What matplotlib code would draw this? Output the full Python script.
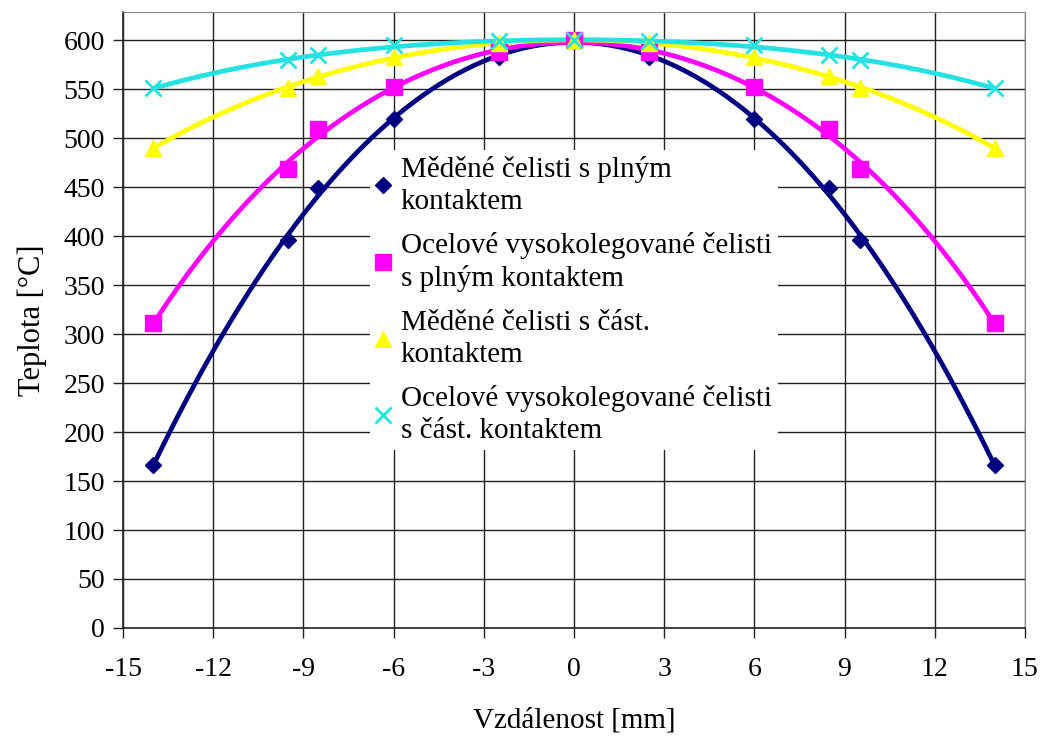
import numpy as np
import matplotlib
matplotlib.use("Agg")
import matplotlib.pyplot as plt

plt.rcParams['font.family'] = ['Liberation Serif', 'DejaVu Serif']
plt.rcParams['axes.unicode_minus'] = False

# --------------------------------------------------
# 	data
# --------------------------------------------------
x = [-14, -9.5, -8.5, -6, -2.5, 0, 2.5, 6, 8.5, 9.5, 14]

cu_full = [166, 396, 449, 520, 583, 600, 583, 520, 449, 396, 166]
steel_full = [311, 469, 510, 552, 588, 600, 588, 552, 510, 469, 311]
cu_part = [490, 551, 564, 583, 597, 600, 597, 583, 564, 551, 490]
steel_part = [551, 580, 585, 595, 599, 600, 599, 595, 585, 580, 551]

labels = [
	"Měděné čelisti s plným\nkontaktem",
	"Ocelové vysokolegované čelisti\ns plným kontaktem",
	"Měděné čelisti s část.\nkontaktem",
	"Ocelové vysokolegované čelisti\ns část. kontaktem",
]
colors = ["#000080", "#FF00FF", "#FFFF00", "#22E2E2"]
markers = ["D", "s", "^", "x"]
msizes = [8, 11, 11, 11]

xticks = list(range(-15, 16, 3))
yticks = list(range(0, 601, 50))

fig = plt.figure(figsize=(10.49, 7.40), dpi=100)
ax = fig.add_axes([0.1173, 0.1514, 0.8597, 0.8324])

# markers = measured points, line = polynomial trendline of them
xf = np.linspace(min(x), max(x), 300)
series = [cu_full, steel_full, cu_part, steel_part]
for ys, lab, col, mk, ms in zip(series, labels, colors, markers, msizes):
	coef = np.polyfit(x, ys, 4)
	ax.plot(xf, np.polyval(coef, xf), color=col, lw=3.4, zorder=3, solid_capstyle="round")
	ax.plot(x, ys, linestyle="none", marker=mk, color=col, markersize=ms,
		markeredgewidth=2 if mk == "x" else 1, label=lab, zorder=4)

ax.set_xlim(-15, 15)
ax.set_ylim(0, 629)
ax.set_xticks(xticks)
ax.set_yticks(yticks)
ax.grid(True, color="#222222", lw=1.0)
ax.set_axisbelow(True)
ax.tick_params(labelsize=20, direction="out", length=7, width=1, color="#222222")
ax.tick_params(axis="x", pad=14)
ax.tick_params(axis="y", pad=6)
for s in ["top", "right"]:
	ax.spines[s].set_color("#888888")
for s in ["left", "bottom"]:
	ax.spines[s].set_color("#222222")
	ax.spines[s].set_linewidth(1.2)

ax.set_xlabel("Vzdálenost [mm]", fontsize=21, labelpad=18)
ax.set_ylabel("Teplota [°C]", fontsize=22, labelpad=12)

leg = ax.legend(loc="upper left", bbox_to_anchor=(0.258, 0.80), fontsize=21,
	frameon=True, fancybox=False, framealpha=1, edgecolor="none",
	handlelength=0.5, handletextpad=0.35, labelspacing=0.6, borderpad=0.2)
leg.set_zorder(5)
for t in leg.get_texts():
	t.set_linespacing(1.3)

plt.savefig("out.png", dpi=100)
